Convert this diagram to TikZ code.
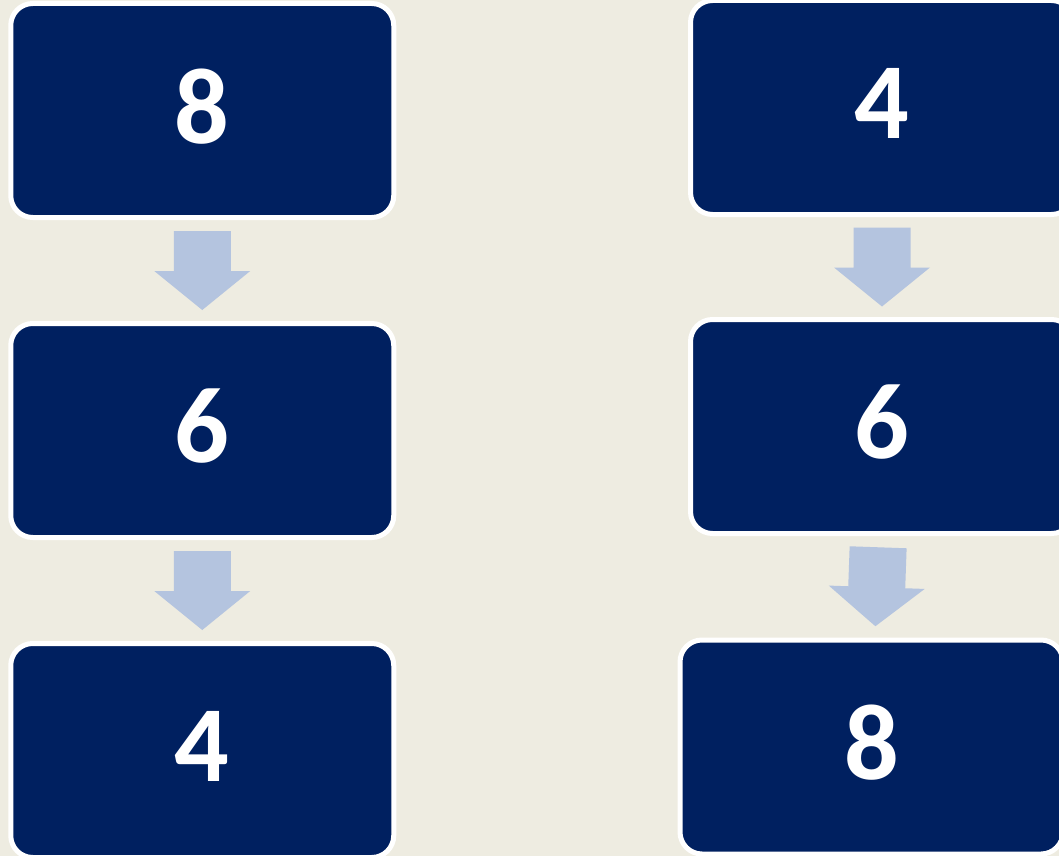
\documentclass[tikz,border=0pt]{standalone}
\usepackage{fontspec}
\setmainfont{Carlito}
\usepackage{xcolor}
\usetikzlibrary{calc}
\definecolor{navybox}{HTML}{002060}
\definecolor{arrowblue}{HTML}{B4C4DF}
\definecolor{bgtan}{HTML}{EEECE1}
\tikzset{
  numbox/.style={draw=white, line width=5pt, fill=navybox, rounded corners=22pt,
    minimum width=383pt, minimum height=214pt, text=white, text depth=9pt,
    font=\fontsize{108}{108}\selectfont\bfseries},
  downarr/.pic={\fill[arrowblue] (-28.5,-39.5) -- (28.5,-39.5) -- (28.5,0.5) -- (48,0.5)
    -- (0,39.5) -- (-48,0.5) -- (-28.5,0.5) -- cycle;}}
\begin{document}
\begin{tikzpicture}[x=1pt, y=-1pt]
  \useasboundingbox (0,0) rectangle (1059,856);
  \fill[bgtan] (0,0) rectangle (1059,856);
  \clip (0,0) rectangle (1059,856);
  % left column
  \foreach \n/\y/\t in {1/110.5/8, 2/430.5/6, 3/750.5/4}
    \node[numbox] (l\n) at (202.25,\y) {\t};
  % right column
  \node[numbox] (r1) at (882,107.5) {4};
  \node[numbox] (r2) at (882,426.5) {6};
  \node[numbox] (r3) at (871.5,747) {8};
  \pic at ($(l1.south)!0.5!(l2.north)$) {downarr};
  \pic at ($(l2.south)!0.5!(l3.north)$) {downarr};
  \pic at ($(r1.south)!0.5!(r2.north)$) {downarr};
  \pic[rotate=-2] at ($(r2.south)!0.5!(r3.north)$) {downarr};
\end{tikzpicture}
\end{document}
